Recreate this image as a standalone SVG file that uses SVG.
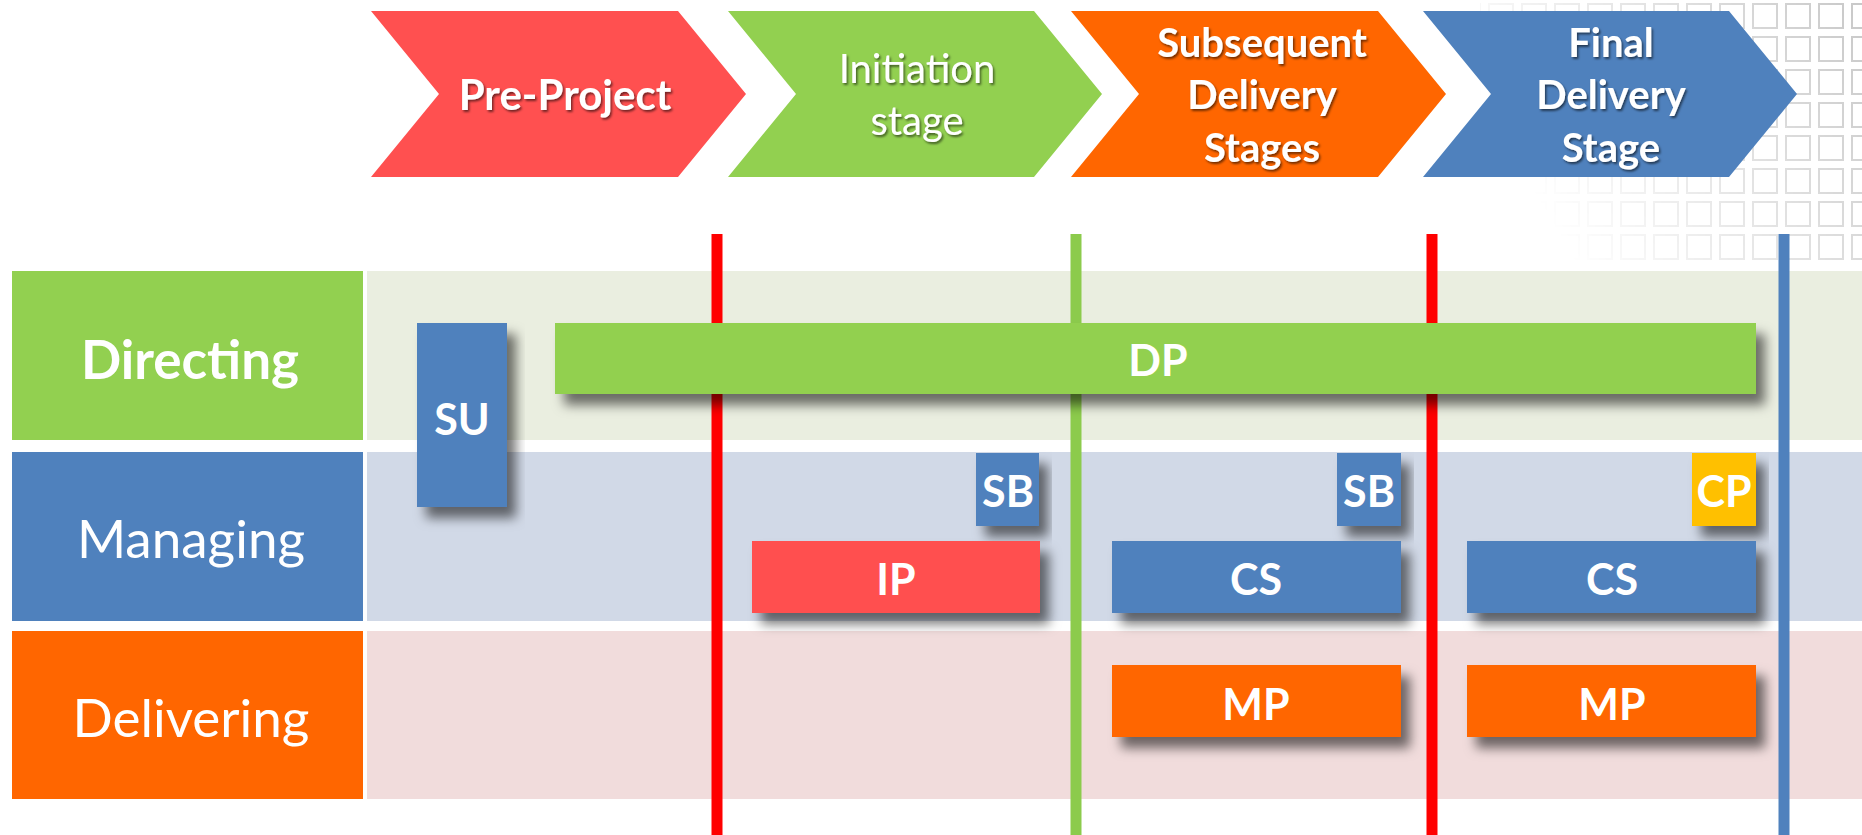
<svg xmlns="http://www.w3.org/2000/svg" width="1862" height="835" viewBox="0 0 1862 835">
<style>
.lbl{font-family:Lato,"Liberation Sans",sans-serif;fill:#fff;text-anchor:middle;dominant-baseline:central}
.chev{font-size:40px;font-weight:bold}
.chevn{font-size:40px;font-weight:normal}
.lane{font-size:53px}
.box{font-size:43px;font-weight:bold}
.vline{stroke-width:11}
</style>
<defs>
<filter id="sh" x="-10%" y="-20%" width="130%" height="170%">
<feDropShadow dx="9" dy="11" stdDeviation="6" flood-color="#000" flood-opacity="0.55"/>
</filter>
<filter id="tsh" x="-10%" y="-20%" width="130%" height="150%">
<feDropShadow dx="1.5" dy="2" stdDeviation="1" flood-color="#000" flood-opacity="0.55"/>
</filter>
<pattern id="grid" x="0" y="0" width="33" height="33" patternUnits="userSpaceOnUse">
<rect x="4" y="4" width="24" height="24" fill="none" stroke="#c8c8c8" stroke-width="2"/>
</pattern>
<linearGradient id="fade" x1="1" y1="0" x2="0" y2="0.4">
<stop offset="0" stop-color="#fff" stop-opacity="1"/>
<stop offset="1" stop-color="#fff" stop-opacity="0"/>
</linearGradient>
<mask id="gm"><rect x="1480" y="0" width="382" height="262" fill="url(#fade)"/></mask>
</defs>
<rect width="1862" height="835" fill="#fff"/>
<rect x="1480" y="0" width="382" height="262" fill="url(#grid)" mask="url(#gm)"/>

<g id="stages">
<g id="stage-preproject">
<polygon points="371,11 678,11 746,94 678,177 371,177 439,94" fill="#FF5050"/>
<text class="lbl chev" x="565" y="94" style="font-size:42px" filter="url(#tsh)">Pre-Project</text>
</g>
<g id="stage-initiation">
<polygon points="728,11 1034,11 1102,94 1034,177 728,177 796,94" fill="#92D050"/>
<text class="lbl chevn" x="917" y="68" filter="url(#tsh)">Initiation</text>
<text class="lbl chevn" x="917" y="120" filter="url(#tsh)">stage</text>
</g>
<g id="stage-subsequent">
<polygon points="1071,11 1378,11 1446,94 1378,177 1071,177 1139,94" fill="#FF6600"/>
<text class="lbl chev" x="1262" y="42" filter="url(#tsh)">Subsequent</text>
<text class="lbl chev" x="1262" y="94" filter="url(#tsh)">Delivery</text>
<text class="lbl chev" x="1262" y="147" filter="url(#tsh)">Stages</text>
</g>
<g id="stage-final">
<polygon points="1423,11 1729,11 1797,94 1729,177 1423,177 1491,94" fill="#4F81BD"/>
<text class="lbl chev" x="1611" y="42" filter="url(#tsh)">Final</text>
<text class="lbl chev" x="1611" y="94" filter="url(#tsh)">Delivery</text>
<text class="lbl chev" x="1611" y="147" filter="url(#tsh)">Stage</text>
</g>
</g>

<g id="lanes">
<rect x="367" y="271" width="1495" height="169" fill="#EAEEE0"/>
<rect x="367" y="452" width="1495" height="169" fill="#D1D9E7"/>
<rect x="367" y="631" width="1495" height="168" fill="#F1DCDC"/>
<g id="lane-directing">
<rect x="12" y="271" width="351" height="169" fill="#92D050"/>
<text class="lbl lane" x="190" y="358" style="font-weight:bold">Directing</text>
</g>
<g id="lane-managing">
<rect x="12" y="452" width="351" height="169" fill="#4F81BD"/>
<text class="lbl lane" x="191" y="537">Managing</text>
</g>
<g id="lane-delivering">
<rect x="12" y="631" width="351" height="168" fill="#FF6600"/>
<text class="lbl lane" x="191" y="716">Delivering</text>
</g>
</g>

<g id="connectors">
<line class="vline" x1="717" y1="234" x2="717" y2="835" stroke="#FF0000"/>
<line class="vline" x1="1076" y1="234" x2="1076" y2="835" stroke="#8CCB4C"/>
<line class="vline" x1="1432" y1="234" x2="1432" y2="835" stroke="#FF0000"/>
<line class="vline" x1="1784" y1="234" x2="1784" y2="835" stroke="#4F81BD"/>
</g>

<g id="node-su">
<rect x="417" y="323" width="90" height="184" fill="#4F81BD" filter="url(#sh)"/>
<text class="lbl box" x="462" y="418">SU</text>
</g>
<g id="node-dp">
<rect x="555" y="323" width="1201" height="71" fill="#92D050" filter="url(#sh)"/>
<text class="lbl box" x="1158" y="359">DP</text>
</g>
<g id="node-sb1">
<rect x="976" y="453" width="63" height="73" fill="#4F81BD" filter="url(#sh)"/>
<text class="lbl box" x="1008" y="490">SB</text>
</g>
<g id="node-ip">
<rect x="752" y="541" width="288" height="72" fill="#FF5050" filter="url(#sh)"/>
<text class="lbl box" x="896" y="578">IP</text>
</g>
<g id="node-sb2">
<rect x="1337" y="453" width="64" height="73" fill="#4F81BD" filter="url(#sh)"/>
<text class="lbl box" x="1369" y="490">SB</text>
</g>
<g id="node-cs1">
<rect x="1112" y="541" width="289" height="72" fill="#4F81BD" filter="url(#sh)"/>
<text class="lbl box" x="1256" y="578">CS</text>
</g>
<g id="node-mp1">
<rect x="1112" y="665" width="289" height="72" fill="#FF6600" filter="url(#sh)"/>
<text class="lbl box" x="1256" y="703">MP</text>
</g>
<g id="node-cp">
<rect x="1692" y="453" width="64" height="73" fill="#FFC000" filter="url(#sh)"/>
<text class="lbl box" x="1724" y="490">CP</text>
</g>
<g id="node-cs2">
<rect x="1467" y="541" width="289" height="72" fill="#4F81BD" filter="url(#sh)"/>
<text class="lbl box" x="1612" y="578">CS</text>
</g>
<g id="node-mp2">
<rect x="1467" y="665" width="289" height="72" fill="#FF6600" filter="url(#sh)"/>
<text class="lbl box" x="1612" y="703">MP</text>
</g>
</svg>
